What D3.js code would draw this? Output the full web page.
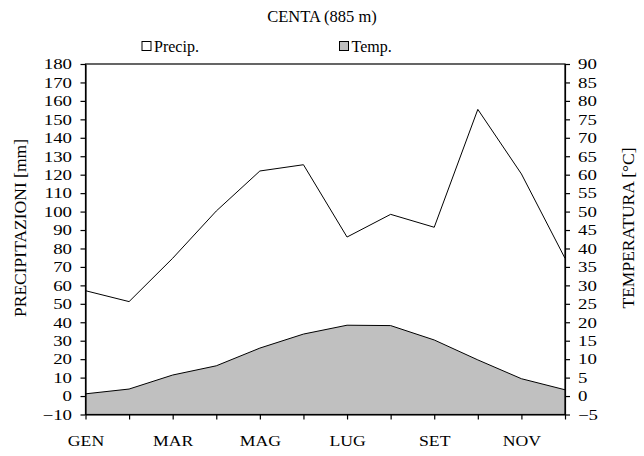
<!DOCTYPE html>
<html>
<head>
<meta charset="utf-8">
<script src="https://cdn.jsdelivr.net/npm/d3@7"></script>
<style>
  body { margin: 0; background: #fff; }
  text { font-family: "Liberation Serif", "Times New Roman", serif; fill: #000; }
</style>
</head>
<body>
<div id="chart"></div>
<script>
var months = ["GEN", "FEB", "MAR", "APR", "MAG", "GIU", "LUG", "AGO", "SET", "OTT", "NOV", "DIC"];
var precip = [57.1, 51.2, 74.7, 100.3, 122, 125.4, 86.2, 98.5, 91.5, 155.4, 120.4, 74.7];
var temp = [0.6, 1.9, 5.7, 8.2, 13.0, 16.8, 19.2, 19.1, 15.2, 9.8, 4.7, 1.7];
var precipTicks = d3.range(-10, 181, 10);
var tempTicks = d3.range(-5, 91, 5);

var W = 644, H = 456;
var plotLeft = 85.5, plotRight = 565, plotTop = 64, plotBottom = 414.5;

var svg = d3.select("#chart").append("svg")
  .attr("width", W)
  .attr("height", H);

var x = d3.scalePoint().domain(months).range([plotLeft, plotRight]);
var yP = d3.scaleLinear().domain([-10, 180]).range([plotBottom, plotTop]);
var yT = d3.scaleLinear().domain([-5, 90]).range([plotBottom, plotTop]);

// temperature area
var area = d3.area()
  .x(function(d, i) { return x(months[i]); })
  .y0(yT(-5))
  .y1(function(d) { return yT(d); });
svg.append("path")
  .datum(temp)
  .attr("d", area)
  .attr("fill", "#c0c0c0");

var tline = d3.line()
  .x(function(d, i) { return x(months[i]); })
  .y(function(d) { return yT(d); });
svg.append("path")
  .datum(temp)
  .attr("d", tline)
  .attr("fill", "none")
  .attr("stroke", "#000")
  .attr("stroke-width", 1);

// precipitation line
var pline = d3.line()
  .x(function(d, i) { return x(months[i]); })
  .y(function(d) { return yP(d); });
svg.append("path")
  .datum(precip)
  .attr("d", pline)
  .attr("fill", "none")
  .attr("stroke", "#000")
  .attr("stroke-width", 1);

// frame
svg.append("rect")
  .attr("x", plotLeft).attr("y", plotTop)
  .attr("width", plotRight - plotLeft).attr("height", plotBottom - plotTop)
  .attr("fill", "none")
  .attr("stroke", "#000")
  .attr("stroke-width", 1.2);

var k = 1.3;

var gL = svg.append("g")
  .attr("transform", "translate(" + plotLeft + ",0)")
  .call(d3.axisLeft(yP).tickValues(precipTicks).tickSize(5).tickSizeOuter(0));
gL.select(".domain").attr("stroke-width", 1.2);
gL.selectAll(".tick line").attr("stroke-width", 1.2);
gL.selectAll("text")
  .attr("x", -13.5 / k)
  .attr("dy", "0.33em")
  .attr("transform", "scale(" + k + ",1)")
  .style("font-size", "14.5px")
  .style("font-family", "Liberation Serif, serif");

var gR = svg.append("g")
  .attr("transform", "translate(" + plotRight + ",0)")
  .call(d3.axisRight(yT).tickValues(tempTicks).tickSize(5).tickSizeOuter(0));
gR.select(".domain").attr("stroke-width", 1.2);
gR.selectAll(".tick line").attr("stroke-width", 1.2);
gR.selectAll("text")
  .attr("x", 13 / k)
  .attr("dy", "0.33em")
  .attr("transform", "scale(" + k + ",1)")
  .style("font-size", "14.5px")
  .style("font-family", "Liberation Serif, serif");

var gB = svg.append("g")
  .attr("transform", "translate(0," + plotBottom + ")")
  .call(d3.axisBottom(x).tickSize(5).tickSizeOuter(0)
    .tickFormat(function(d, i) { return i % 2 == 0 ? d : ""; }));
gB.select(".domain").attr("stroke-width", 1.2);
gB.selectAll(".tick line").attr("stroke-width", 1.2);
// tick groups are translated, so scaling around x=0 keeps labels centred
gB.selectAll("text")
  .attr("y", 32)
  .attr("dy", 0)
  .attr("transform", "scale(1.22,1)")
  .attr("x", 0)
  .style("font-size", "14.5px")
  .style("font-family", "Liberation Serif, serif");

// axis titles
var midY = 228;
svg.append("text")
  .attr("transform", "translate(26," + midY + ") rotate(-90)")
  .attr("text-anchor", "middle")
  .style("font-size", "17.5px")
  .text("PRECIPITAZIONI [mm]");

svg.append("text")
  .attr("transform", "translate(634," + midY + ") rotate(-90)")
  .attr("text-anchor", "middle")
  .style("font-size", "17.5px")
  .text("TEMPERATURA [°C]");

// title
svg.append("text")
  .attr("x", 322).attr("y", 22)
  .attr("text-anchor", "middle")
  .style("font-size", "16.5px")
  .text("CENTA (885 m)");

// legend
var legend = [{label: "Precip.", fill: "#fff", x: 142}, {label: "Temp.", fill: "#c0c0c0", x: 339.5}];
var lg = svg.selectAll(".legend").data(legend).enter().append("g");
lg.append("rect")
  .attr("x", function(d) { return d.x; })
  .attr("y", 41.5)
  .attr("width", 9).attr("height", 9)
  .attr("fill", function(d) { return d.fill; })
  .attr("stroke", "#000")
  .attr("stroke-width", 1);
lg.append("text")
  .attr("x", function(d) { return d.x + 12; })
  .attr("y", 51.5)
  .style("font-size", "16px")
  .text(function(d) { return d.label; });
</script>
</body>
</html>
